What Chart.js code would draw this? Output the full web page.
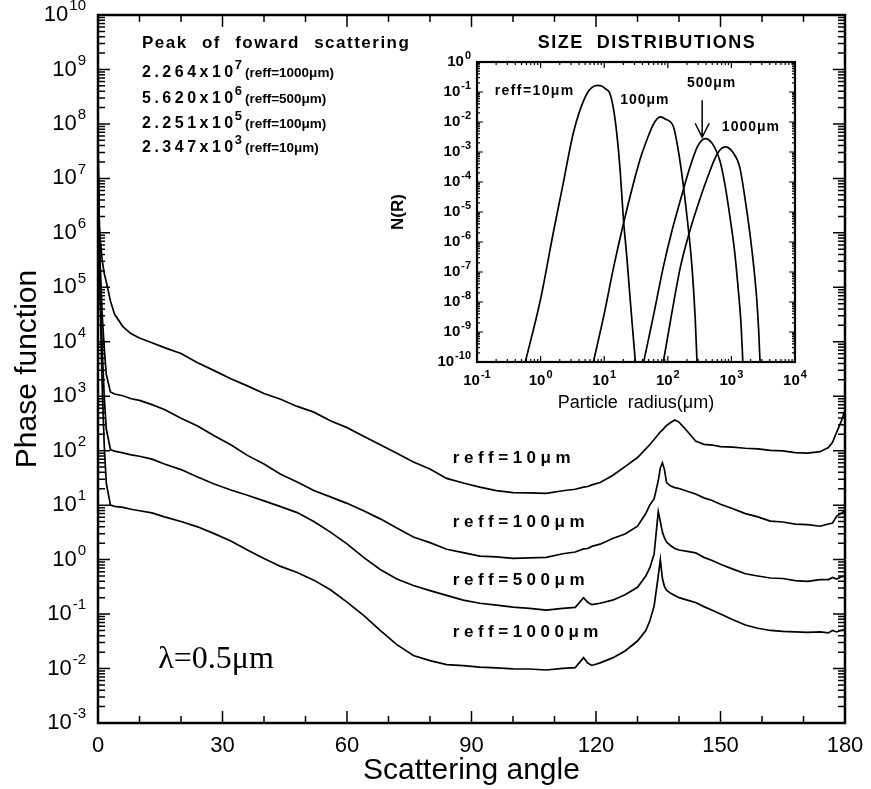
<!DOCTYPE html>
<html>
<head>
<meta charset="utf-8">
<script src="https://cdn.jsdelivr.net/npm/chart.js@4.4.1/dist/chart.umd.min.js"></script>
<style>
  html, body { margin: 0; padding: 0; background: #fff; }
  #wrap { position: relative; width: 871px; height: 789px; }
  #main { position: absolute; left: 0; top: 0; }
  #inset { position: absolute; left: 388px; top: 28px; }
</style>
</head>
<body>
<div id="wrap">
  <canvas id="main" width="871" height="789"></canvas>
  <canvas id="inset" width="422" height="392"></canvas>
</div>
<script>
// scattering angle (deg) shared by the four phase functions
const angles = [0, 0.5, 1, 1.5, 2, 3, 4, 6, 8, 10, 13, 16, 20, 24, 28, 32, 36, 40, 44, 48,
  52, 56, 60, 64, 68, 72, 76, 80, 84, 88, 92, 96, 100, 104, 108, 112, 115, 117, 118, 119,
  121, 124, 127, 130, 132, 133, 134, 135, 135.5, 136, 136.5, 137, 138, 139, 140, 142, 144, 146, 148, 150,
  153, 156, 159, 162, 165, 168, 171, 174, 176, 177, 178, 179, 180];

const reff10 = [2.3e6, 8.0e5, 3.2e5, 1.8e5, 1.26e5, 5.6e4, 3.2e4, 1.9e4, 1.4e4, 1.17e4, 9600, 7800, 6100, 4100, 2950, 2100, 1550, 1120, 880, 650,
  510, 355, 265, 185, 128, 90, 62, 46, 31, 25.5, 21.5, 18.5, 17.0, 16.8, 16.5, 18.4, 19.6, 21.4, 22.0, 23.6,
  26, 35, 51, 75, 108, 130, 160, 198, 222, 238, 265, 290, 330, 365, 335, 228, 150, 131, 127, 119,
  116, 111, 108, 101, 99, 92, 90, 96, 114, 142, 220, 330, 560];

const reff100 = [2.25e7, 3.2e5, 3.2e4, 7900, 2500, 1200, 1100, 1020, 900, 840, 700, 570, 395, 285, 188, 128, 82, 57, 37, 26.5,
  18.6, 14.2, 10.8, 7.9, 5.6, 3.8, 2.6, 2.05, 1.55, 1.34, 1.16, 1.12, 1.05, 1.08, 1.10, 1.28, 1.38, 1.57, 1.6, 1.75,
  1.92, 2.45, 2.95, 4.1, 7.0, 10.2, 13, 28, 48, 60, 45, 26, 22.4, 21, 20.2, 18, 16, 13.6, 12.2, 10.4,
  8.6, 7.0, 6.1, 5.1, 4.9, 4.5, 4.4, 4.1, 4.5, 4.7, 6.3, 7.0, 7.9];

const reff500 = [5.6e7, 1.6e5, 7900, 1000, 250, 105, 98, 91, 84, 79, 70, 57, 45, 33, 24.5, 19, 15.2, 12, 9.4, 7.3,
  5.0, 3.2, 1.95, 1.1, 0.66, 0.44, 0.335, 0.27, 0.22, 0.18, 0.158, 0.146, 0.134, 0.127, 0.118, 0.127, 0.133, 0.2, 0.165, 0.149,
  0.158, 0.18, 0.226, 0.31, 0.5, 0.72, 1.26, 7.6, 5.0, 3.2, 2.5, 2.1, 1.8, 1.6, 1.5, 1.42, 1.33, 1.1, 0.96, 0.82,
  0.67, 0.55, 0.5, 0.46, 0.45, 0.41, 0.4, 0.43, 0.43, 0.47, 0.44, 0.48, 0.5];

const reff1000 = [2.26e7, 6.3e4, 1600, 126, 25, 10, 9.5, 9.1, 8.4, 7.9, 7.2, 6.1, 5.0, 4.0, 3.0, 2.2, 1.5, 1.05, 0.75, 0.58,
  0.42, 0.28, 0.166, 0.095, 0.05, 0.0275, 0.0174, 0.014, 0.0118, 0.0113, 0.0106, 0.0103, 0.0099, 0.0098, 0.0094, 0.0101, 0.0104, 0.0158, 0.0126, 0.0114,
  0.0127, 0.0157, 0.021, 0.032, 0.05, 0.076, 0.14, 0.5, 1.0, 0.45, 0.32, 0.275, 0.24, 0.22, 0.2, 0.18, 0.163, 0.137, 0.118, 0.1,
  0.079, 0.063, 0.055, 0.05, 0.048, 0.047, 0.046, 0.047, 0.045, 0.05, 0.047, 0.05, 0.052];

// size distributions: radius (um) and N(R)
const r10 = [0.575, 1.0, 1.58, 2.24, 3.24, 4.17, 5.37, 6.31, 7.76, 9.12, 10.5, 12.3, 14.1, 15.8, 17.8, 20, 22.9, 25.7, 30.9];
const n10 = [1e-10, 1.26e-8, 2.0e-6, 7.9e-5, 4.0e-3, 2.5e-2, 8.9e-2, 0.138, 0.166, 0.158, 0.126, 0.089, 0.025, 4.0e-3, 2.5e-4, 6.3e-6, 2.5e-7, 1.12e-8, 1e-10];

const r100 = [6.76, 10, 14.1, 20, 28.8, 37.2, 46.8, 60.3, 75.9, 91.2, 123, 145, 174, 204, 240, 269, 288];
const n100 = [1e-10, 4.0e-9, 1.48e-7, 4.0e-6, 8.9e-5, 6.3e-4, 2.5e-3, 8.9e-3, 1.48e-2, 1.26e-2, 6.8e-3, 1.26e-3, 8.9e-5, 5.0e-6, 1.48e-7, 3.2e-9, 1e-10];

const r500 = [41.7, 60.3, 85.1, 117, 158, 224, 295, 389, 501, 661, 794, 955, 1122, 1259, 1413, 1514];
const n500 = [1e-10, 4.0e-9, 1.48e-7, 2.5e-6, 2.5e-5, 3.2e-4, 1.58e-3, 2.8e-3, 1.9e-3, 5.0e-4, 7.9e-5, 6.3e-6, 5.0e-7, 4.0e-8, 2.0e-9, 1e-10];

const r1000 = [85.1, 115, 158, 224, 316, 447, 603, 794, 1047, 1349, 1622, 1950, 2239, 2512, 2692, 2818];
const n1000 = [1e-10, 4.0e-9, 1.48e-7, 2.5e-6, 2.5e-5, 2.0e-4, 8.9e-4, 1.48e-3, 1.0e-3, 3.2e-4, 3.2e-5, 2.0e-6, 1.6e-7, 1.12e-8, 1.0e-9, 1e-10];

// tick labels
const angleTicks = [0, 30, 60, 90, 120, 150, 180];
const phaseTicks = [1e-3, 1e-2, 1e-1, 1, 1e1, 1e2, 1e3, 1e4, 1e5, 1e6, 1e7, 1e8, 1e9, 1e10];
const radiusTicks = [1e-1, 1, 1e1, 1e2, 1e3, 1e4];
const densityTicks = [1e-10, 1e-9, 1e-8, 1e-7, 1e-6, 1e-5, 1e-4, 1e-3, 1e-2, 1e-1, 1];

const peakLines = [
  ['2.264x10', '7', '(reff=1000μm)'],
  ['5.620x10', '6', '(reff=500μm)'],
  ['2.251x10', '5', '(reff=100μm)'],
  ['2.347x10', '3', '(reff=10μm)']
];

const FONT = '"Liberation Sans", Arial, Helvetica, sans-serif';
Chart.defaults.font.family = FONT;
Chart.defaults.color = '#000';

function linTicks(min, max, step, major) {
  const out = [];
  for (let v = min; v <= max; v += step) out.push({v, major: v % major === 0});
  return out;
}
function logTicks(min, max, minor) {
  const out = [];
  const e0 = Math.round(Math.log10(min)), e1 = Math.round(Math.log10(max));
  for (let e = e0; e < e1; e++) {
    out.push({v: Math.pow(10, e), major: true});
    if (minor) for (let k = 2; k < 10; k++) out.push({v: k * Math.pow(10, e), major: false});
  }
  out.push({v: max, major: true});
  return out;
}

// frame on all four sides with inward ticks
function makeFrame(xt, yt, o) {
  return {
    id: 'frame',
    afterDatasetsDraw(chart) {
      const {ctx, chartArea: a, scales: {x, y}} = chart;
      ctx.save();
      ctx.strokeStyle = '#000';
      ctx.lineWidth = o.tickWidth;
      ctx.beginPath();
      xt.forEach(t => {
        const px = x.getPixelForValue(t.v);
        const len = t.major ? o.major : o.minor;
        ctx.moveTo(px, a.bottom); ctx.lineTo(px, a.bottom - len);
        ctx.moveTo(px, a.top); ctx.lineTo(px, a.top + len);
      });
      yt.forEach(t => {
        const py = y.getPixelForValue(t.v);
        const len = t.major ? o.major : o.minor;
        ctx.moveTo(a.left, py); ctx.lineTo(a.left + len, py);
        ctx.moveTo(a.right, py); ctx.lineTo(a.right - len, py);
      });
      ctx.stroke();
      ctx.lineWidth = o.frameWidth;
      ctx.strokeRect(a.left, a.top, a.right - a.left, a.bottom - a.top);
      ctx.restore();
    }
  };
}

// 10^n labels with a raised exponent
function drawPow(ctx, v, x, y, o, align) {
  const e = String(Math.round(Math.log10(v)));
  const base = `${o.weight} ${o.size}px ${FONT}`, sup = `${o.weight} ${o.sup}px ${FONT}`;
  ctx.letterSpacing = '0px';
  ctx.font = base;
  const wb = ctx.measureText('10').width;
  ctx.font = sup;
  const we = ctx.measureText(e).width;
  const total = wb + 1 + we;
  const x0 = align === 'right' ? x - total : x - total / 2;
  ctx.textAlign = 'left';
  ctx.textBaseline = 'middle';
  ctx.font = base;
  ctx.fillText('10', x0, y);
  ctx.font = sup;
  ctx.fillText(e, x0 + wb + 1, y - o.size * 0.4);
}

function makePowLabels(xVals, yVals, o) {
  return {
    id: 'powLabels',
    afterDraw(chart) {
      const {ctx, chartArea: a, scales: {x, y}} = chart;
      ctx.save();
      ctx.fillStyle = '#000';
      yVals.forEach(v => drawPow(ctx, v, a.left - o.yPad, y.getPixelForValue(v), o, 'right'));
      xVals.forEach(v => drawPow(ctx, v, x.getPixelForValue(v), a.bottom + o.xPad, o, 'center'));
      ctx.restore();
    }
  };
}

function text(ctx, str, x, y, font, spacing, align) {
  ctx.font = font;
  ctx.letterSpacing = (spacing || 0) + 'px';
  ctx.textAlign = align || 'left';
  ctx.textBaseline = 'middle';
  ctx.fillText(str, x, y);
  return ctx.measureText(str).width;
}

const mainNotes = {
  id: 'mainNotes',
  afterDraw(chart) {
    const {ctx, scales: {x, y}} = chart;
    ctx.save();
    ctx.fillStyle = '#000';
    const left = x.getPixelForValue(10.6);
    ctx.wordSpacing = '8px';
    text(ctx, 'Peak of foward scattering', left, y.getPixelForValue(3.0e9), 'bold 17px ' + FONT, 1.5);
    ctx.wordSpacing = '0px';
    const rows = [8.7e8, 2.95e8, 1.02e8, 3.7e7];
    peakLines.forEach((p, i) => {
      const py = y.getPixelForValue(rows[i]);
      let px = left;
      px += text(ctx, p[0], px, py, 'bold 16px ' + FONT, 3.5);
      px += text(ctx, p[1], px - 2, py - 7, 'bold 13px ' + FONT, 0) + 1;
      text(ctx, p[2], px, py + 1, 'bold 13.5px ' + FONT, 0);
    });
    [['reff=10μm', 72], ['reff=100μm', 4.9], ['reff=500μm', 0.42], ['reff=1000μm', 0.047]].forEach(([s, v]) => {
      text(ctx, s, x.getPixelForValue(85.5), y.getPixelForValue(v), 'bold 17px ' + FONT, 4.5);
    });
    text(ctx, 'λ=0.5μm', x.getPixelForValue(14.5), y.getPixelForValue(0.0145), '32px "Liberation Serif", "Times New Roman", serif', 0);
    ctx.restore();
  }
};

const insetNotes = {
  id: 'insetNotes',
  afterDraw(chart) {
    const {ctx, chartArea: a, scales: {x, y}} = chart;
    ctx.save();
    ctx.fillStyle = '#000';
    ctx.strokeStyle = '#000';
    text(ctx, 'SIZE  DISTRIBUTIONS', a.left + 170, a.top - 19, 'bold 18px ' + FONT, 1.5, 'center');
    const f = 'bold 14px ' + FONT;
    text(ctx, 'reff=10μm', x.getPixelForValue(0.19), y.getPixelForValue(0.11), f, 1.4);
    text(ctx, '100μm', x.getPixelForValue(17.8), y.getPixelForValue(0.053), f, 1);
    text(ctx, '500μm', x.getPixelForValue(200), y.getPixelForValue(0.195), f, 1);
    text(ctx, '1000μm', x.getPixelForValue(708), y.getPixelForValue(0.0066), f, 1);
    const ax = x.getPixelForValue(347);
    const ay0 = y.getPixelForValue(0.053), ay1 = y.getPixelForValue(0.0031);
    ctx.lineWidth = 1.5;
    ctx.beginPath();
    ctx.moveTo(ax, ay0); ctx.lineTo(ax, ay1);
    ctx.moveTo(ax - 7, ay1 - 14); ctx.lineTo(ax, ay1); ctx.lineTo(ax + 7, ay1 - 14);
    ctx.stroke();
    ctx.restore();
  }
};

const line = (data, smooth) => ({
  data, borderColor: '#000', borderWidth: 1.7, pointRadius: 0, fill: false,
  tension: 0, cubicInterpolationMode: smooth ? 'monotone' : 'default'
});

new Chart(document.getElementById('main'), {
  type: 'line',
  data: {
    datasets: [
      line(angles.map((a, i) => ({x: a, y: reff10[i]}))),
      line(angles.map((a, i) => ({x: a, y: reff100[i]}))),
      line(angles.map((a, i) => ({x: a, y: reff500[i]}))),
      line(angles.map((a, i) => ({x: a, y: reff1000[i]})))
    ]
  },
  options: {
    responsive: false,
    animation: false,
    layout: {padding: {left: 0, right: 26, top: 15, bottom: 0}},
    plugins: {legend: {display: false}, tooltip: {enabled: false}},
    scales: {
      x: {
        type: 'linear', min: 0, max: 180,
        grid: {display: false}, border: {display: false},
        afterBuildTicks: s => { s.ticks = angleTicks.map(v => ({value: v})); },
        ticks: {font: {size: 22}, padding: 2, maxRotation: 0},
        title: {display: true, text: 'Scattering angle', font: {size: 30}, padding: {top: 0, bottom: 0}},
        afterFit: s => { s.height = 66; }
      },
      y: {
        type: 'logarithmic', min: 1e-3, max: 1e10,
        grid: {display: false}, border: {display: false},
        ticks: {display: false},
        title: {display: true, text: 'Phase function', font: {size: 30}, padding: {top: 10, bottom: 0}},
        afterFit: s => { s.width = 98; }
      }
    }
  },
  plugins: [makeFrame(linTicks(0, 180, 10, 30), logTicks(1e-3, 1e10, true),
    {tickWidth: 1.5, frameWidth: 2.5, major: 12, minor: 7}),
    makePowLabels([], phaseTicks, {size: 22, sup: 15, weight: 'normal', yPad: 12, xPad: 0}),
    mainNotes]
});

new Chart(document.getElementById('inset'), {
  type: 'line',
  data: {
    datasets: [
      line(r10.map((r, i) => ({x: r, y: n10[i]})), true),
      line(r100.map((r, i) => ({x: r, y: n100[i]})), true),
      line(r500.map((r, i) => ({x: r, y: n500[i]})), true),
      line(r1000.map((r, i) => ({x: r, y: n1000[i]})), true)
    ]
  },
  options: {
    responsive: false,
    animation: false,
    layout: {padding: {left: 0, right: 15, top: 34, bottom: 0}},
    plugins: {legend: {display: false}, tooltip: {enabled: false}},
    scales: {
      x: {
        type: 'logarithmic', min: 0.1, max: 1e4,
        grid: {display: false}, border: {display: false},
        ticks: {display: false},
        title: {display: true, text: 'Particle  radius(μm)', font: {size: 18}, padding: {top: 0, bottom: 6}},
        afterFit: s => { s.height = 58; }
      },
      y: {
        type: 'logarithmic', min: 1e-10, max: 1,
        grid: {display: false}, border: {display: false},
        ticks: {display: false},
        title: {display: true, text: 'N(R)', font: {size: 17, weight: 'bold'}, padding: {top: 0, bottom: 0}},
        afterFit: s => { s.width = 89; }
      }
    }
  },
  plugins: [makeFrame(logTicks(0.1, 1e4, true), logTicks(1e-10, 1, true),
    {tickWidth: 1.2, frameWidth: 2.2, major: 6, minor: 3}),
    makePowLabels(radiusTicks, densityTicks, {size: 15, sup: 11, weight: 'bold', yPad: 6, xPad: 19}),
    insetNotes]
});
</script>
</body>
</html>
